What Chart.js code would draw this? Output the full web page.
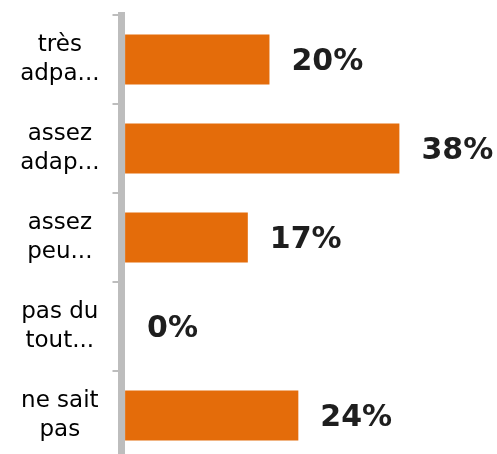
<!DOCTYPE html>
<html lang="fr">
<head>
  <meta charset="UTF-8" />
  <title>Répartition des réponses</title>
  <style>
    html, body { margin: 0; padding: 0; background: #fff; overflow: hidden; }
    .chart-box { position: relative; width: 497px; height: 466px; }
  </style>
</head>
<body>
  <div class="chart-box">
    <canvas id="answersChart"></canvas>
  </div>

  <script src="https://cdn.jsdelivr.net/npm/chart.js"></script>
  <script>
    // answer categories (Excel-style truncated, two lines each) and their shares in %
    const categories = [
      ["très", "adpa..."],
      ["assez", "adap..."],
      ["assez", "peu..."],
      ["pas du", "tout..."],
      ["ne sait", "pas"]
    ];
    const shares = [20, 38, 17, 0, 24];

    // writes "NN%" just right of each bar end
    const valueLabels = {
      id: "valueLabels",
      afterDatasetsDraw(chart) {
        const { ctx } = chart;
        const meta = chart.getDatasetMeta(0);
        ctx.save();
        ctx.font = "bold 30px 'DejaVu Sans'";
        ctx.fillStyle = "#1e1e1e";
        ctx.textAlign = "left";
        ctx.textBaseline = "middle";
        meta.data.forEach((bar, i) => {
          ctx.fillText(shares[i] + "%", bar.x + 22, bar.y + 3);
        });
        ctx.restore();
      }
    };

    const ctx = document.getElementById("answersChart").getContext("2d");
    new Chart(ctx, {
      type: "bar",
      data: {
        labels: categories,
        datasets: [{
          data: shares,
          backgroundColor: "#e46c0a",
          borderWidth: 0,
          barPercentage: 0.56,
          categoryPercentage: 1
        }]
      },
      options: {
        indexAxis: "y",
        responsive: true,
        maintainAspectRatio: false,
        animation: false,
        layout: { padding: { top: 15, right: 11, bottom: 6, left: 0 } },
        scales: {
          x: {
            display: false,
            min: -0.5,
            max: 50
          },
          y: {
            // fixed label column; no extra room above/below the category bands
            afterFit(scale) {
              scale.width = 121.5;
              scale.paddingTop = 0;
              scale.paddingBottom = 0;
            },
            border: { display: true, color: "#bdbdbd", width: 7 },
            grid: {
              drawOnChartArea: false,
              drawTicks: true,
              tickLength: 9,
              color: "#bdbdbd",
              lineWidth: 2
            },
            ticks: {
              crossAlign: "center",
              padding: 13,
              color: "#000",
              font: { family: "'DejaVu Sans'", size: 23, lineHeight: 1.28 }
            }
          }
        },
        plugins: {
          legend: { display: false },
          tooltip: { enabled: false }
        }
      },
      plugins: [valueLabels]
    });
  </script>
</body>
</html>
